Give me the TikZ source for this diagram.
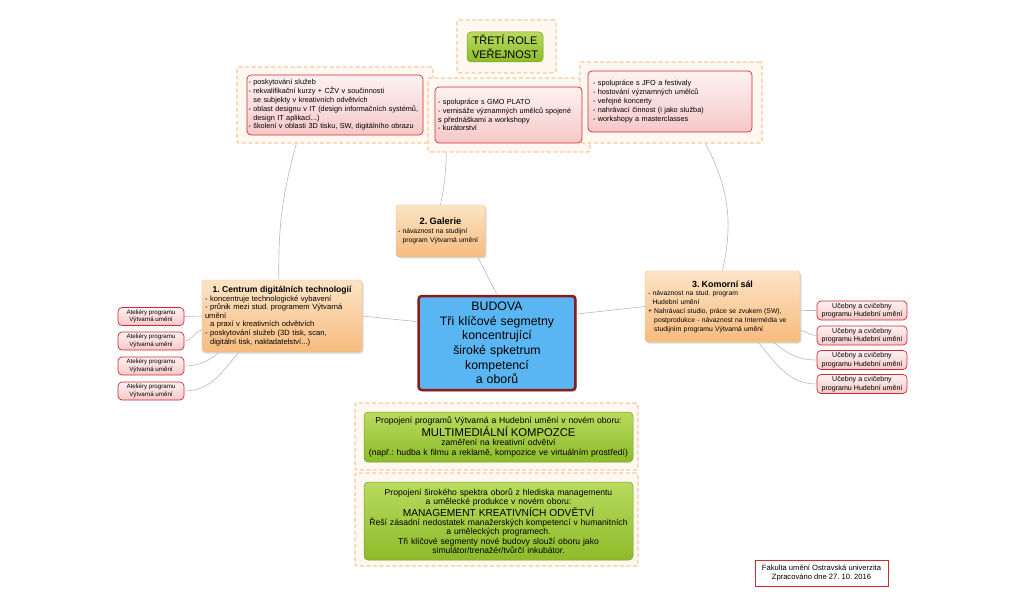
\documentclass[tikz,border=0pt]{standalone}
\usepackage{fontspec}
\setmainfont{Liberation Sans}
\usetikzlibrary{shadows}
\frenchspacing
\definecolor{boxorange}{RGB}{247,187,126}
\definecolor{boxorangetop}{RGB}{252,228,198}
\definecolor{orangeedge}{RGB}{236,190,140}
\definecolor{grpedge}{RGB}{248,200,154}
\definecolor{grpfill}{RGB}{255,248,240}
\definecolor{boxred}{RGB}{214,40,47}
\definecolor{boxpink}{RGB}{246,200,200}
\definecolor{boxpinktop}{RGB}{253,242,242}
\definecolor{boxgreen}{RGB}{141,187,42}
\definecolor{boxgreentop}{RGB}{185,218,95}
\definecolor{greenedge}{RGB}{120,160,35}
\definecolor{budovablue}{RGB}{90,182,242}
\definecolor{budovaedge}{RGB}{140,26,26}
\definecolor{linkgray}{RGB}{185,185,185}

\begin{document}
\begin{tikzpicture}[x=1pt, y=-1pt,
  grp/.style={draw=grpedge, line width=1.3pt, dash pattern=on 4pt off 2.5pt, fill=grpfill, rounded corners=2pt, inner sep=0pt},
  redbox/.style={draw=boxred, line width=0.7pt, rounded corners=4pt, top color=boxpinktop, bottom color=boxpink,
    font=\fontsize{7.3}{8.8}\selectfont, align=left, inner xsep=3pt, inner ysep=1pt},
  smallred/.style={redbox, align=center, inner xsep=1pt, font=\fontsize{6.2}{7.6}\selectfont},
  orangebox/.style={draw=orangeedge, line width=0.4pt, rounded corners=3pt, top color=boxorangetop, bottom color=boxorange,
    drop shadow={shadow xshift=1.5pt, shadow yshift=-1.5pt, opacity=0.3},
    font=\fontsize{7.2}{8.7}\selectfont, align=left, inner xsep=3pt, inner ysep=1pt},
  greenbox/.style={draw=greenedge, line width=0.5pt, rounded corners=4pt, top color=boxgreentop, bottom color=boxgreen,
    font=\fontsize{8.6}{9.6}\selectfont, align=center, inner sep=2pt},
  link/.style={draw=linkgray, line width=0.6pt}
]
\useasboundingbox (0,0) rectangle (1024,609);

% dashed groups
\node[grp, minimum width=196, minimum height=76] (tlgrp) at (335,105) {};
\node[grp, minimum width=162, minimum height=74] (midgrp) at (509,115) {};
\node[grp, minimum width=182, minimum height=81] (rgrp) at (671,102.5) {};
\node[grp, minimum width=99, minimum height=53] (tretigrp) at (506.5,46.5) {};
\node[grp, minimum width=283, minimum height=67] (mmgrp) at (496.5,436.5) {};
\node[grp, minimum width=283, minimum height=93] (mggrp) at (496.5,519.5) {};

% top boxes
\node[greenbox, font=\fontsize{11}{13.5}\selectfont, minimum width=76, minimum height=30] (treti) at (505,47)
  {TŘETÍ ROLE\\VEŘEJNOST};
\node[redbox, inner xsep=1.5pt, text width=173, minimum height=60] (tlbox) at (335,105)
  {- poskytování služeb\\
   - rekvalifikační kurzy + CŽV v součinnosti\\
   \hphantom{- }se subjekty v kreativních odvětvích\\
   - oblast designu v IT (design informačních systémů,\\
   \hphantom{- }design IT aplikací...)\\
   - školení v oblasti 3D tisku, SW, digitálního obrazu};
\node[redbox, text width=141, minimum height=56] (midbox) at (508.5,115)
  {- spolupráce s GMO PLATO\\
   - vernisáže významných umělců spojené\\
   s přednáškami a workshopy\\
   - kurátorství};
\node[redbox, inner xsep=5pt, text width=154, minimum height=61] (rbox) at (670,101.5)
  {- spolupráce s JFO a festivaly\\
   - hostování významných umělců\\
   - veřejné koncerty\\
   - nahrávací činnost (i jako služba)\\
   - workshopy a masterclasses};

% three segments
\node[orangebox, font=\fontsize{6.8}{8.7}\selectfont, inner xsep=2pt, text width=85, minimum height=52] (galerie) at (440.5,231)
  {\makebox[\linewidth][c]{\fontsize{9.3}{11}\selectfont\bfseries 2. Galerie}\\
   - návaznost na studijní\\
   \hphantom{- }program Výtvarná umění};
\node[orangebox, font=\fontsize{7.6}{8.6}\selectfont, text width=154, minimum height=72] (centrum) at (282,316)
  {\makebox[\linewidth][c]{\fontsize{8.6}{9.6}\selectfont\bfseries 1. Centrum digitálních technologií}\\
   - koncentruje technologické vybavení\\
   - průnik mezi stud. programem Výtvarná\\
   umění\\
   \hphantom{- }a praxí v kreativních odvětvích\\
   - poskytování služeb (3D tisk, scan,\\
   \hphantom{- }digitální tisk, nakladatelství...)};
\node[orangebox, font=\fontsize{6.8}{8.8}\selectfont, text width=149, minimum height=71] (komorni) at (722.5,306.5)
  {\makebox[\linewidth][c]{\fontsize{8.9}{10.5}\selectfont\bfseries 3. Komorní sál}\\
   - návaznost na stud. program\\
   \hphantom{- }Hudební umění\\
   + Nahrávací studio, práce se zvukem (SW),\\
   \hphantom{+ }postprodukce - návaznost na Intermédia ve\\
   \hphantom{+ }studijním programu Výtvarná umění};

% centre
\node[draw=budovaedge, line width=2.5pt, rounded corners=3pt, fill=budovablue,
  drop shadow={shadow xshift=1.5pt, shadow yshift=-1.5pt, opacity=0.3},
  font=\fontsize{12.3}{14.7}\selectfont, align=center, text width=150, minimum height=94] (budova) at (497,343)
  {BUDOVA\\Tři klíčové segmetny\\koncentrující\\široké spketrum\\kompetencí\\a oborů};

% new study fields
\node[greenbox, text width=267, inner xsep=1pt, minimum height=50] (mmbox) at (498.5,437)
  {Propojení programů Výtvarná a Hudební umění v novém oboru:\\
   {\fontsize{11.3}{12.5}\selectfont MULTIMEDIÁLNÍ KOMPOZCE}\\
   zaměření na kreativní odvětví\\
   (např.: hudba k filmu a reklamě, kompozice ve virtuálním prostředí)};
\node[greenbox, text width=267, inner xsep=1pt, font=\fontsize{8.6}{9.4}\selectfont, minimum height=78] (mgbox) at (498.5,521)
  {Propojení širokého spektra oborů z hlediska managementu\\
   a umělecké produkce v novém oboru:\\
   {\fontsize{10.2}{12.5}\selectfont MANAGEMENT KREATIVNÍCH ODVĚTVÍ}\\
   Řeší zásadní nedostatek manažerských kompetencí v humanitních\\
   a uměleckých programech.\\
   Tři klíčové segmenty nové budovy slouží oboru jako\\
   simulátor/trenažér/tvůrčí inkubátor.};

% workshops and classrooms
\foreach \y [count=\i] in {316.5,341,366,391}
  \node[smallred, minimum width=66, minimum height=18] (at\i) at (151,\y) {Ateliéry programu\\Výtvarná umění};
\foreach \y [count=\i] in {310.5,335.5,360,384}
  \node[smallred, font=\fontsize{7.1}{8.6}\selectfont, minimum width=90, minimum height=19] (uc\i) at (862,\y)
    {Učebny a cvičebny\\programu Hudební umění};

\node[draw=boxred, line width=0.7pt, fill=white, font=\fontsize{7.6}{9.5}\selectfont, align=center,
  minimum width=133, minimum height=26, inner sep=1pt] (fakulta) at (821.5,573)
  {Fakulta umění Ostravská univerzita\\Zpracováno dne 27. 10. 2016};

% links
\draw[link] (centrum.95) to[bend left=8] (tlgrp.-135);
\draw[link] (galerie.north) to[bend right=5] (midgrp.-149);
\draw[link] (rgrp.-50) to[bend left=20] (komorni.north);
\draw[link] (galerie.-35) -- (budova.north);
\draw[link] (centrum.east) -- (budova.165);
\draw[link] (budova.20) -- (komorni.west);
\draw[link] (at1.east) -- (centrum.west);
\draw[link] (at2.east) to[out=0, in=190] (centrum.190);
\draw[link] (at3.east) to[out=0, in=220] (centrum.210);
\draw[link] (at4.east) to[out=0, in=230] (centrum.220);
\draw[link] (uc1.west) -- (komorni.-3);
\draw[link] (uc2.west) to[out=180, in=-10] (komorni.-17);
\draw[link] (uc3.west) to[out=180, in=-40] (komorni.-35);
\draw[link] (uc4.west) to[out=180, in=-50] (komorni.-45);
\end{tikzpicture}
\end{document}
